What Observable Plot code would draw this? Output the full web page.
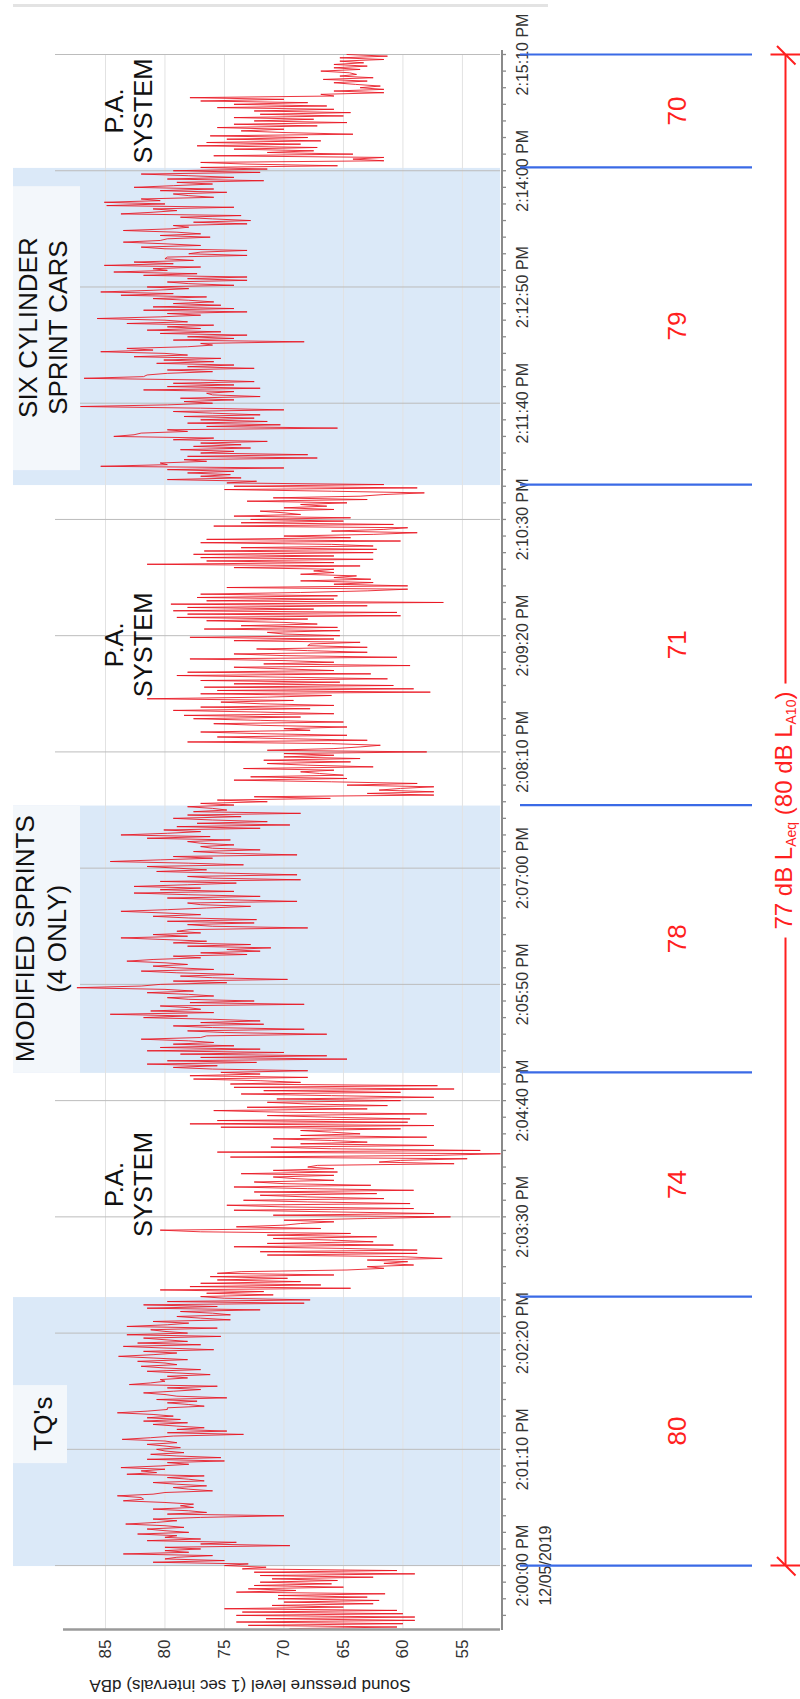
<!DOCTYPE html>
<html>
<head>
<meta charset="utf-8">
<script src="https://cdn.jsdelivr.net/npm/d3@7"></script>
<script src="https://cdn.jsdelivr.net/npm/@observablehq/plot@0.6"></script>
<style>
  html, body { margin: 0; padding: 0; background: #fff; width: 800px; height: 1699px; overflow: hidden; }
  #wrap { position: absolute; left: 0; top: 0; width: 1699px; height: 800px;
          transform-origin: 0 0; transform: translate(0px, 1699px) rotate(-90deg); }
</style>
</head>
<body>
<div id="wrap"></div>
<script>
// ---- data: 1-second sound pressure levels, seconds after 2:00:00 PM (12/05/2019) ----
const firstSecond = -38;
const stepSeconds = 1;
const splBeforeStart = [ // 1:59:22 – 1:59:59
  69.5, 60.5, 73, 60, 74, 59, 71.5, 59, 74, 60,
  73.5, 60.5, 75, 65, 71, 62.5, 70, 62, 70.5, 63,
  70.5, 61.5, 74, 69, 73, 65, 72.5, 66, 72, 65.5,
  71, 62.5, 72, 59, 72.5, 60.5, 73.5, 71.5
];
const splFirstBlock = [ // 2:00:00 – 2:03:21
  75, 73, 81, 75, 80, 79, 76, 83.5, 78, 80,
  77, 80, 69.5, 77, 74, 81.5, 77, 80, 79, 82.3,
  78, 80, 81.5, 78.4, 80, 83.3, 80.7, 79, 81, 77,
  70, 79.8, 76.5, 78, 81, 77.6, 78.7, 77.6, 80, 83.5,
  81.8, 82, 84, 81, 80, 76, 78, 79.3, 76.5, 79,
  81, 76.7, 78, 79.8, 76.7, 83.2, 80.7, 82, 80, 83.7,
  80.4, 78, 79.8, 75, 81.5, 75.3, 79, 81.2, 78.4, 80,
  80.7, 78.7, 80, 81.5, 79, 80, 83.6, 81.2, 79.3, 73.4,
  79.8, 74.8, 79, 76.7, 79, 81, 78.1, 81.8, 78.7, 81.5,
  79.3, 81, 84, 81.5, 79.8, 79.8, 76.7, 78, 79.8, 77.3,
  80.7, 74.8, 79, 80, 81.8, 79.3, 77, 79.8, 75.6, 83,
  81.2, 80, 80.4, 78.1, 79.8, 76.2, 79, 81.5, 77, 80,
  82, 79, 80, 82.3, 78.1, 81, 83.9, 81, 79, 81.8,
  75.9, 80, 83.5, 77, 82.3, 78.1, 80, 81.8, 75.3, 83.2,
  78.1, 80, 81.2, 75.6, 83.2, 79.8, 78, 81, 74.5, 77,
  79, 74.5, 76, 78.7, 72, 81.5, 75.6, 81.8, 68.3, 79.8,
  67.8, 75, 77, 70.9, 76.5, 71.7, 80.4, 64.4, 77.9, 66.9,
  77, 68.6, 75.6, 69.7, 76.2, 65.8, 75.6, 73.6, 64.7, 61.6,
  63, 59.1, 61.6, 59.6, 63, 56.7, 60, 71.4, 58.8, 72,
  58.8, 65, 74.2, 60.8, 71.4, 62.5, 66, 70.9, 62.2, 71.4,
  64.4, 77
];
const splSecondBlock = [ // 2:03:22 – 2:06:47
  80.4, 66.9, 74, 70, 68.6, 65.8, 70, 63, 56, 70.9,
  57.4, 66, 74.2, 59.1, 70, 74.8, 59.4, 68, 73.4, 61.6,
  68, 72, 62.2, 72.5, 59.1, 68, 74.2, 62.7, 70, 72.5,
  65.8, 69, 70.9, 65.8, 73.6, 65.5, 70.9, 65.8, 68, 67.2,
  55.7, 62, 60.2, 54.6, 74.5, 57.4, 51.8, 75.6, 53.5, 66,
  71.1, 57.4, 68.6, 63, 66, 70.9, 58, 68.6, 63.6, 66,
  68.6, 60.2, 75.3, 57.4, 77.9, 59.6, 75.6, 59.4, 66, 71.4,
  58, 70, 75.9, 63, 73.1, 61.3, 68, 71.4, 60.2, 70.6,
  57.4, 66, 73.6, 60.2, 71.7, 55.7, 74.2, 57.1, 74.5, 68.6,
  72, 77.6, 68, 77.9, 72, 75.3, 68, 76, 79.3, 75.6,
  81.5, 72.3, 79.8, 64.7, 77, 66.4, 78.7, 70, 81.5, 72,
  80.4, 74.2, 79.3, 75.9, 78, 82, 77, 76.5, 66.4, 75,
  78.1, 68.3, 76, 79.3, 71.7, 77, 72, 76, 81.8, 78.1,
  84.6, 75.9, 81.2, 77, 78, 80.4, 68.3, 77.9, 72.5, 78,
  79.8, 75.9, 78, 81.5, 77.6, 80, 87.4, 82, 80.4, 74.8,
  79.3, 69.7, 76, 78.7, 74.2, 79, 82, 75.9, 79, 81,
  78.1, 80, 83.2, 81, 77, 79.3, 73.1, 77, 72, 74.8,
  71.1, 78.1, 72.8, 79.3, 76.5, 80, 83.7, 78.1, 81, 77,
  79, 77.9, 68, 76, 78.1, 72.5, 79.8, 72.3, 78, 81,
  77, 80, 83.7, 79.8, 76.5, 72.8, 77, 78.1, 68.9, 75,
  79.8, 72, 78, 82.6, 74.2, 80.4
];
const splThirdBlock = [ // 2:06:48 – 2:10:11
  77, 82.6, 78.1, 74, 80.4, 68.6, 76, 78.1, 68.9, 75,
  80.7, 76.5, 79, 81.5, 73.4, 78, 84.6, 80.4, 76, 79.3,
  68.9, 75, 77.6, 72, 76, 77, 74.2, 77, 78.1, 74.5,
  81.5, 76.2, 83.7, 79.8, 77, 80.1, 72, 79, 69.5, 77.3,
  71.4, 76, 79.3, 73.6, 78.1, 68.6, 77.6, 74.8, 76, 78.1,
  74.2, 77, 71.4, 75.6, 66.1, 72.5, 57.4, 63, 57.4, 62,
  60.2, 57.4, 64.7, 58.8, 66, 74.2, 64.7, 72.8, 65, 67,
  68.6, 65.8, 73.4, 62.5, 68, 71.4, 64.4, 71.7, 63.6, 70,
  65.8, 70, 58, 71.4, 65.8, 63.6, 61.9, 66, 78.1, 63,
  70, 75.6, 64.7, 72, 77, 67.8, 70, 64.7, 72, 75.9,
  65, 72, 77.6, 68.6, 78.4, 65.8, 72, 79.3, 67.8, 77,
  65.8, 72, 75.3, 69.2, 81.5, 71.4, 66, 77, 57.7, 75.6,
  59.1, 76.7, 60.8, 74.2, 65.3, 77, 61.3, 70, 79, 62.7,
  78.1, 65.8, 70, 74.2, 59.4, 71.7, 65.8, 70, 77.9, 60.5,
  70, 74.2, 63, 68, 72.3, 63, 68, 67.8, 63.6, 74.2,
  65.8, 77.9, 65.3, 70, 71.4, 65.3, 76.7, 65.5, 73.6, 67.2,
  70, 76.5, 68, 79, 60.2, 78.1, 60.5, 79.3, 67.5, 78.1,
  63, 79.5, 56.6, 76.5, 65.8, 77.3, 65.5, 77, 68.6, 63,
  59.6, 74.8, 59.6, 65.8, 62.5, 68.6, 62.7, 65.8, 63.9, 68.6,
  65.8, 67.5, 65.8, 74.2, 63.6, 81.5, 65.8, 76.5, 62.5, 77,
  65.8, 77.6, 62.5, 76.7
];
const splFourthBlock = [ // 2:10:12 – 2:13:37
  62.2, 73.6, 62.5, 66, 77, 60.2, 76.5, 64.4, 70, 62.5,
  58.8, 66, 61.6, 59.6, 75.9, 60.8, 73.6, 65, 72.8, 64.4,
  74.2, 68.6, 70, 72, 65.8, 70, 66.4, 68.6, 64.7, 73.1,
  63, 70.9, 63.6, 61.6, 58.2, 66, 75, 58.8, 74.2, 61.6,
  74.8, 72.3, 79.8, 73.6, 77, 74.5, 78.1, 74.2, 79.8, 70,
  85.4, 79.8, 80.4, 76.5, 78.4, 67.2, 78.1, 68, 77, 74.2,
  78.7, 72.8, 77.6, 73.6, 77, 71.4, 79.3, 75.9, 84.3, 82.6,
  82, 78.1, 79.8, 65.5, 76.5, 70.3, 78.1, 71.4, 77, 72.5,
  78.4, 72, 76, 79.3, 70, 77, 87.1, 79.8, 76, 78.4,
  74.2, 78.7, 72, 76, 76.5, 74.2, 81.8, 72, 79.8, 74.2,
  79.3, 72.5, 77, 86.8, 81.8, 81.5, 79.8, 76, 79.8, 72.5,
  78.1, 74.2, 80.7, 75.9, 80.1, 75.3, 82.6, 78.1, 80, 85.4,
  81, 83.2, 78.1, 76, 77, 68.3, 79.3, 74.2, 78.1, 73.1,
  80.4, 75.3, 81.5, 77, 79.8, 75.9, 83.2, 78.1, 80, 85.7,
  80.4, 77, 79.8, 73.1, 81.8, 74.2, 81, 75.3, 79.3, 75.9,
  78, 81, 76.5, 83.7, 79.3, 85.4, 81, 78, 81.5, 74.2,
  78, 79.8, 73.1, 78.1, 73.1, 81.8, 77.3, 84.3, 79.8, 81,
  77, 85.1, 79.3, 82.6, 77.6, 80, 79.8, 73.1, 78, 77,
  73.1, 80, 82, 77, 80, 83.5, 80.4, 79.8, 76.2, 80.4,
  77, 79, 83.5, 79.5, 78, 79.3, 73.1, 77.6, 72.8, 76,
  78.7, 73.6, 83.7, 81, 79, 81
];
const splLastBlock = [ // 2:13:38 – 2:15:10
  74.2, 84.9, 80, 85.1, 80.4, 82, 75.9, 78, 79.3, 74.8,
  80.4, 75.9, 82.6, 79.3, 76, 79, 71.7, 79.8, 74.2, 78,
  82, 72, 79.3, 71.4, 77, 65.5, 73.1, 77, 61.6, 64.2,
  61.6, 75.9, 64.2, 71.4, 67.5, 74.2, 67.2, 77.3, 68.6, 76.5,
  66.9, 74.8, 68, 76.2, 64.2, 70, 73.6, 70, 75.6, 67.2,
  74.2, 64.7, 72.5, 67.5, 74.2, 65, 72, 64.4, 72.5, 65.8,
  75.6, 66.4, 74.2, 68, 77, 70, 77.9, 65.8, 66.9, 61.6,
  65.8, 61.6, 63.6, 61.9, 64, 65.8, 63, 66.7, 62.5, 65.3,
  63.9, 64.5, 66.9, 63.6, 65.8, 63, 65.8, 63.3, 65.3, 61.6,
  65.3, 61.3, 64.7
];

const periodStart  = [0, 162, 297, 458, 651, 842];
const periodEnd    = [162, 297, 458, 651, 842, 910];
const periodLabel  = ["TQ's", "P.A.\nSYSTEM", "MODIFIED SPRINTS\n(4 ONLY)", "P.A.\nSYSTEM", "SIX CYLINDER\nSPRINT CARS", "P.A.\nSYSTEM"];
const periodRacing = [true, false, true, false, true, false];
const periodLaeq   = [80, 74, 78, 71, 79, 70];
const labelBoxStart = [62, null, 297, null, 660, null];
const labelBoxEnd   = [109, null, 458, null, 831, null];

const overallLaeq = 77;
const overallLa10 = 80;
const dbTicks = [55, 60, 65, 70, 75, 80, 85];
const timeTickSeconds = [0, 70, 140, 210, 280, 350, 420, 490, 560, 630, 700, 770, 840, 910];
const minorTickSeconds = d3.range(-30, 911, 10);
const dateLabel = "12/05/2019";
const yLabel = "Sound pressure level (1 sec intervals) dBA";

// ---- tables ----
const splDbA = [...splBeforeStart, ...splFirstBlock, ...splSecondBlock, ...splThirdBlock, ...splFourthBlock, ...splLastBlock];
const series = splDbA.map((v, i) => ({ t: firstSecond + i * stepSeconds, db: v }));
const periods = periodStart.map((s, i) => ({
  start: s, end: periodEnd[i], label: periodLabel[i], racing: periodRacing[i], laeq: periodLaeq[i],
  boxStart: labelBoxStart[i], boxEnd: labelBoxEnd[i],
  mid: labelBoxStart[i] != null ? (labelBoxStart[i] + labelBoxEnd[i]) / 2 : (s + periodEnd[i]) / 2
}));
const boundaries = [periodStart[0], ...periodEnd];
const tStart = -38.5, tEnd = 910, dbMin = 51.8, dbMax = 89.2;

const fmt = s => {
  const m = Math.floor(s / 60), sec = s % 60;
  return `2:${String(m).padStart(2, "0")}:${String(sec).padStart(2, "0")} PM`;
};

const slashEnd = {
  draw(ctx, size) {
    const r = Math.sqrt(size / Math.PI);
    ctx.moveTo(r * 0.85, -r * 0.85);
    ctx.lineTo(-r, r);
    ctx.moveTo(0, -1.5 * r);
    ctx.lineTo(0, 1.5 * r);
  }
};

const red = "#ff1f1f";
const font = "'Liberation Sans', Arial, Helvetica, sans-serif";

const plot = Plot.plot({
  width: 1699, height: 800,
  marginLeft: 69, marginRight: 55, marginTop: 55, marginBottom: 300,
  x: { domain: [tStart, tEnd], label: null },
  y: { domain: [dbMin, dbMax], label: null },
  style: { fontFamily: font, background: "#fff", overflow: "visible" },
  marks: [
    Plot.ruleX([tEnd], { dx: 49, insetTop: -42, insetBottom: -48, stroke: "#e3e3e3", strokeWidth: 3 }),
    Plot.rect(periods.filter(d => d.racing), { x1: "start", x2: "end", insetTop: -42, fill: "#dbe9f8" }),
    Plot.ruleY(dbTicks, { stroke: "#e2e2e2", strokeWidth: 1 }),
    Plot.ruleX(timeTickSeconds, { stroke: "#bcbcbc", strokeWidth: 1 }),
    Plot.rect(periods.filter(d => d.boxStart != null && d.label.indexOf("\n") < 0),
      { x1: "boxStart", x2: "boxEnd", insetTop: -42, insetBottom: 433, fill: "#f3f7fb" }),
    Plot.rect(periods.filter(d => d.boxStart != null && d.label.indexOf("\n") >= 0),
      { x1: "boxStart", x2: "boxEnd", insetTop: -42, insetBottom: 420, fill: "#f3f7fb" }),
    Plot.line(series, { x: "t", y: "db", stroke: "#e8101c", strokeWidth: 0.85 }),
    Plot.ruleX([tStart], { insetTop: 8, stroke: "#9a9a9a", strokeWidth: 2.5 }),
    Plot.ruleY([dbMin], { x1: tStart, x2: tEnd + 3, dy: 1.5, stroke: "#8a8a8a", strokeWidth: 2 }),
    Plot.ruleX(minorTickSeconds, { insetTop: 447, insetBottom: -6, stroke: "#8a8a8a", strokeWidth: 1.3 }),
    Plot.axisX(timeTickSeconds, {
      tickSize: 0, tickPadding: 12, fontSize: 16, fill: "#333", lineHeight: 1.4, label: null,
      tickFormat: s => s === 0 ? fmt(s) + "\n" + dateLabel : fmt(s)
    }),
    Plot.axisY(dbTicks, { tickSize: 0, tickPadding: 10, fontSize: 17, fill: "#333", label: null }),
    Plot.text(periods.filter(d => d.label === "TQ's"),
      { x: "mid", text: "label", frameAnchor: "top", lineAnchor: "middle", dy: -12, fontSize: 26, fill: "#111" }),
    Plot.text(periods.filter(d => d.label.startsWith("MODIFIED")),
      { x: "mid", text: "label", frameAnchor: "top", lineAnchor: "middle", dy: -16, fontSize: 26, lineHeight: 1.23, fill: "#111" }),
    Plot.text(periods.filter(d => d.label.startsWith("SIX")),
      { x: "mid", text: "label", frameAnchor: "top", lineAnchor: "middle", dy: -13, fontSize: 26, lineHeight: 1.15, fill: "#111" }),
    Plot.text(periods.filter(d => !d.racing),
      { x: "mid", text: "label", frameAnchor: "top", lineAnchor: "middle", dy: 73, fontSize: 25.5, lineHeight: 1.12, fill: "#111" }),
    Plot.ruleX(boundaries, { insetTop: 465, insetBottom: -252, stroke: "#3a6ae6", strokeWidth: 2.2 }),
    Plot.text(periods, { x: d => (d.start + d.end) / 2, text: d => String(d.laeq), frameAnchor: "bottom", lineAnchor: "middle", dy: 177, fontSize: 26, fill: red }),
    Plot.ruleY([dbMin], { x1: boundaries[0], x2: boundaries[boundaries.length - 1], dy: 285, stroke: red, strokeWidth: 2 }),
    Plot.dot([boundaries[0], boundaries[boundaries.length - 1]], { x: d => d, frameAnchor: "bottom", dy: 285, r: 10, symbol: slashEnd, stroke: red, strokeWidth: 2, fill: "none" })
  ]
});

document.getElementById("wrap").append(plot);

const svg = d3.select(plot);
// y-axis title, rotated, left of the dB axis
svg.append("text")
  .attr("transform", "translate(13,250) rotate(-90)")
  .attr("text-anchor", "middle").attr("dy", "0.35em")
  .attr("font-family", font).attr("font-size", 17).attr("fill", "#222")
  .text(yLabel);

// overall level label with subscripts, centred on the red dimension line
const xs = plot.scale("x");
const cx = xs.apply((boundaries[0] + boundaries[boundaries.length - 1]) / 2);
const g = svg.append("g");
const bg = g.append("rect").attr("fill", "#fff");
const txt = g.append("text")
  .attr("x", cx).attr("y", 784).attr("dy", "0.35em")
  .attr("text-anchor", "middle").attr("fill", red)
  .attr("font-family", font).attr("font-size", 24);
txt.append("tspan").text(`${overallLaeq} dB L`);
txt.append("tspan").attr("font-size", 14).attr("dy", 3.5).text("Aeq");
txt.append("tspan").attr("dy", -3.5).text(` (${overallLa10} dB L`);
txt.append("tspan").attr("font-size", 14).attr("dy", 3.5).text("A10");
txt.append("tspan").attr("dy", -3.5).text(")");
const bb = txt.node().getBBox();
bg.attr("x", bb.x - 8).attr("width", bb.width + 16).attr("y", 775).attr("height", 20);
</script>
</body>
</html>
